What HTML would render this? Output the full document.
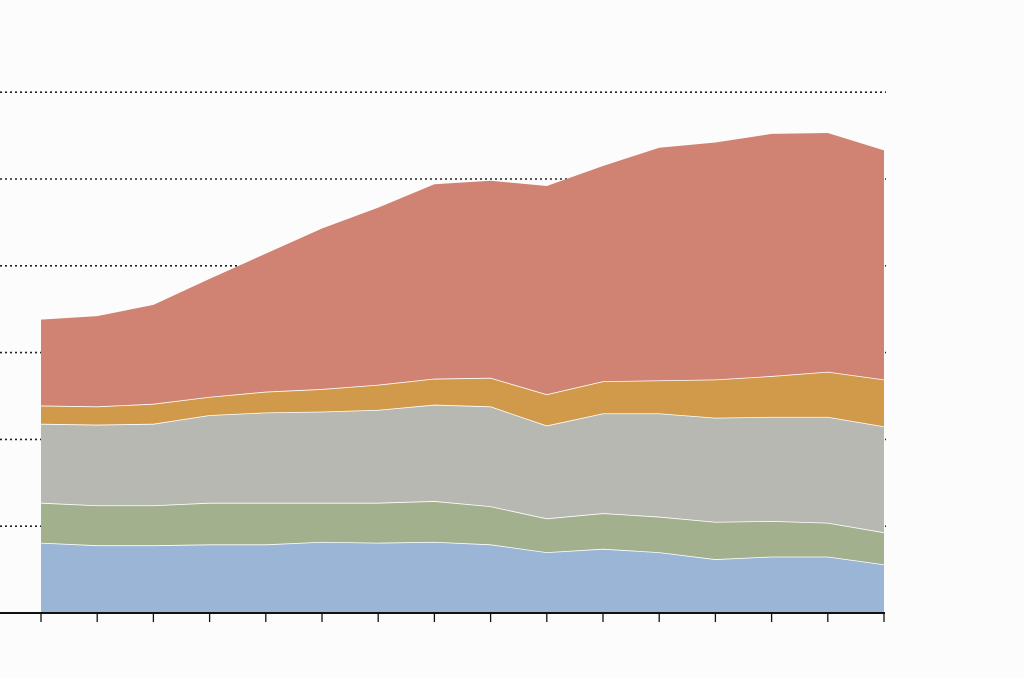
<!DOCTYPE html>
<html>
<head>
<meta charset="utf-8">
<style>
  html,body{margin:0;padding:0;background:#fdfcfc;}
  svg{display:block;font-family:"Liberation Sans",sans-serif;}
</style>
</head>
<body>
<svg id="chart" width="1024" height="678" viewBox="0 0 1024 678" xmlns="http://www.w3.org/2000/svg">
  <rect x="0" y="0" width="1024" height="678" fill="#fdfcfc"/>
  <g id="grid"></g>
  <g id="areas"></g>
  <g id="axis"></g>
</svg>
<script>
const categories = [1,2,3,4,5,6,7,8,9,10,11,12,13,14,15,16];
const seriesBlue   = [0.81,0.78,0.78,0.79,0.79,0.82,0.81,0.82,0.79,0.70,0.74,0.70,0.62,0.65,0.65,0.56];
const seriesGreen  = [0.46,0.46,0.46,0.48,0.48,0.45,0.46,0.47,0.44,0.39,0.41,0.41,0.43,0.41,0.39,0.37];
const seriesGray   = [0.91,0.93,0.94,1.01,1.04,1.05,1.07,1.11,1.15,1.07,1.15,1.19,1.20,1.20,1.22,1.22];
const seriesOrange = [0.21,0.21,0.23,0.21,0.24,0.26,0.29,0.30,0.33,0.36,0.37,0.38,0.44,0.47,0.52,0.54];
const seriesRed    = [0.99,1.04,1.14,1.36,1.59,1.85,2.04,2.24,2.27,2.40,2.48,2.68,2.73,2.79,2.75,2.64];
const gridTicks = [1,2,3,4,5,6];

const NS = "http://www.w3.org/2000/svg";
const X0 = 41, X1 = 884, Y0 = 613, UNIT = 86.8;
const xScale = i => X0 + (X1 - X0) * i / (categories.length - 1);
const yScale = v => Y0 - v * UNIT;

const grid = document.getElementById('grid');
gridTicks.forEach(t => {
  const l = document.createElementNS(NS, 'line');
  
  
  l.setAttribute('x1', 0); l.setAttribute('x2', 886);
  l.setAttribute('y1', yScale(t)); l.setAttribute('y2', yScale(t));
  l.setAttribute('stroke', '#222'); l.setAttribute('stroke-width', '1.6');
  l.setAttribute('stroke-dasharray', '2,3');
  grid.appendChild(l);
});

const layers = [
  {name:'area-blue', data:seriesBlue, color:'#9ab5d5'},
  {name:'area-green', data:seriesGreen, color:'#a3b08e'},
  {name:'area-gray', data:seriesGray, color:'#b8b8b2'},
  {name:'area-orange', data:seriesOrange, color:'#d09a4a'},
  {name:'area-red', data:seriesRed, color:'#d08273'}
];
const areas = document.getElementById('areas');
let base = categories.map(() => 0);
layers.forEach(layer => {
  const top = base.map((b, i) => b + layer.data[i]);
  let d = '';
  top.forEach((v, i) => { d += (i ? 'L' : 'M') + xScale(i) + ',' + yScale(v); });
  for (let i = base.length - 1; i >= 0; i--) d += 'L' + xScale(i) + ',' + yScale(base[i]);
  d += 'Z';
  const p = document.createElementNS(NS, 'path');
  
  
  p.setAttribute('d', d);
  p.setAttribute('fill', layer.color);
  areas.appendChild(p);
  let ld = '';
  top.forEach((v, i) => { ld += (i ? 'L' : 'M') + xScale(i) + ',' + yScale(v); });
  const line = document.createElementNS(NS, 'path');
  
  
  line.setAttribute('d', ld);
  line.setAttribute('fill', 'none');
  line.setAttribute('stroke', layer.name === 'area-red' ? 'none' : '#ffffff');
  line.setAttribute('stroke-width', '1.6');
  areas.appendChild(line);
  base = top;
});

const axis = document.getElementById('axis');
const al = document.createElementNS(NS, 'line');


al.setAttribute('x1', 0); al.setAttribute('x2', 885);
al.setAttribute('y1', Y0); al.setAttribute('y2', Y0);
al.setAttribute('stroke', '#111'); al.setAttribute('stroke-width', '2');
axis.appendChild(al);
categories.forEach((c, i) => {
  const t = document.createElementNS(NS, 'line');
  
  
  t.setAttribute('x1', xScale(i)); t.setAttribute('x2', xScale(i));
  t.setAttribute('y1', Y0); t.setAttribute('y2', Y0 + 9);
  t.setAttribute('stroke', '#111'); t.setAttribute('stroke-width', '1.3');
  axis.appendChild(t);
});
</script>
</body>
</html>
